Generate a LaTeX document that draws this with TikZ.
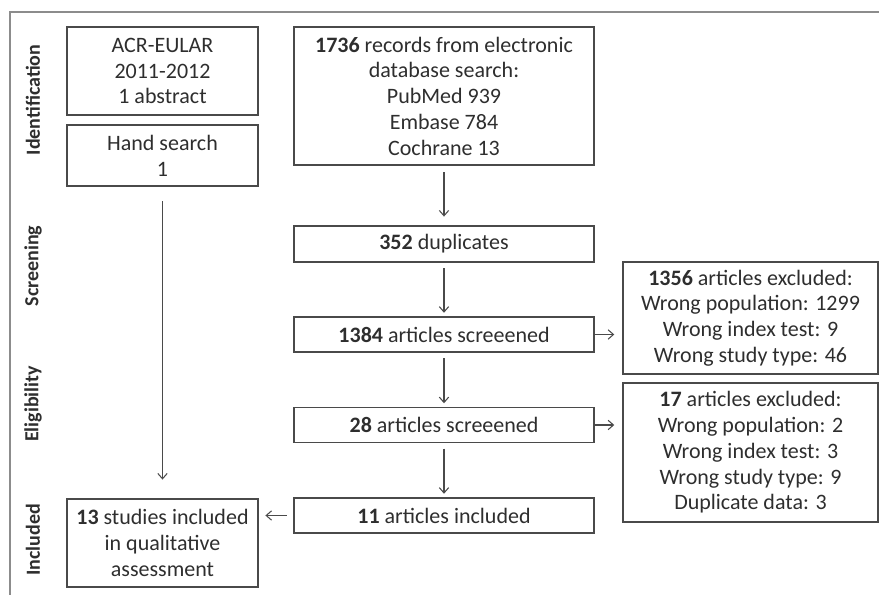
\documentclass[tikz,border=0pt]{standalone}
\usepackage{fontspec}
\setmainfont{Carlito}
\usetikzlibrary{arrows.meta}
\definecolor{framegray}{HTML}{8C8C8C}
\definecolor{boxgray}{HTML}{4A4A4A}
\definecolor{textgray}{HTML}{2E2E2E}
\begin{document}
\begin{tikzpicture}[x=0.75pt, y=-0.75pt,
    box/.style={draw=boxgray, line width=1.1pt, align=center, inner sep=0pt,
                text=textgray, font=\fontsize{16.5}{19.3}\selectfont},
    leftbox/.style={box, minimum width=143.25pt},
    midbox/.style={box, minimum width=225pt, minimum height=26.5pt},
    sidebox/.style={box, minimum width=191.25pt},
    phase/.style={rotate=90, text=textgray, font=\fontsize{15}{17}\selectfont\bfseries},
    arr/.style={-{Straight Barb[length=4pt, width=7pt]}, line width=0.8pt, draw=boxgray}]
\useasboundingbox (0,0) rectangle (879,595);
\draw[framegray, line width=1.5pt] (10,595) -- (10,12) -- (879,12);
\foreach \name/\y in {Identification/100, Screening/266, Eligibility/404, Included/540}
    \node[phase] (\name) at (33,\y) {\name};
% left column
\node[leftbox, minimum height=66pt] (acr) at (162.5,71) {ACR-EULAR\\2011-2012\\1 abstract};
\node[leftbox, minimum height=45.75pt] (hand) at (162.5,155.5) {Hand search\\1};
\node[leftbox, minimum height=66pt] (studies) at (162.5,543)
    {\textbf{13} studies included\\in qualitative\\assessment};
% middle column
\node[midbox, minimum height=103.5pt] (db) at (444,96)
    {\textbf{1736} records from electronic\\database search:\\PubMed 939\\Embase 784\\Cochrane 13};
\node[midbox, minimum height=27pt] (dup) at (444,244) {\textbf{352} duplicates};
\node[midbox] (scr1) at (444,334.5) {\textbf{1384} articles screeened};
\node[midbox] (scr2) at (444,425) {\textbf{28} articles screeened};
\node[midbox] (inc) at (444,515.5) {\textbf{11} articles included};
% exclusions
\node[sidebox, minimum height=84pt] (exc1) at (750.5,318)
    {\textbf{1356} articles excluded:\\Wrong population: 1299\\Wrong index test: 9\\Wrong study type: 46};
\node[sidebox, minimum height=104.25pt] (exc2) at (750.5,452.5)
    {\textbf{17} articles excluded:\\Wrong population: 2\\Wrong index test: 3\\Wrong study type: 9\\Duplicate data: 3};
% arrows
\draw[arr, shorten <=5pt, shorten >=6.5pt] (db) -- (dup);
\foreach \a/\b in {dup/scr1, scr1/scr2, scr2/inc}
    \draw[arr, shorten <=4pt, shorten >=2.5pt] (\a) -- (\b);
\draw[arr, shorten >=6pt] (scr1.east) -- (scr1.east -| exc1.west);
\draw[arr, shorten >=6pt] (scr2.east) -- (scr2.east -| exc2.west);
\draw[arr, shorten <=5pt, shorten >=5pt] (inc.west) -- (inc.west -| studies.east);
\draw[arr, shorten <=11pt, shorten >=14pt] (hand) -- (studies);
\end{tikzpicture}
\end{document}
